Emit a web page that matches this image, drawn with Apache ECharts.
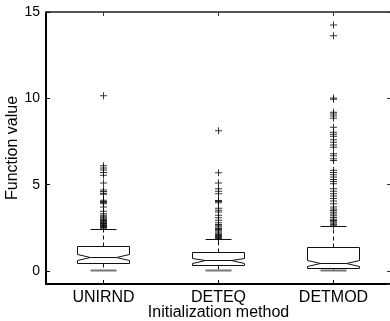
<!DOCTYPE html>
<html>
<head>
<meta charset="utf-8">
<script src="https://cdn.jsdelivr.net/npm/echarts@6/dist/echarts.min.js"></script>
<style>
  html, body { margin: 0; padding: 0; background: #fff; }
  #chart { width: 390px; height: 321px; }
</style>
</head>
<body>
<div id="chart"></div>
<script>
// Initialization methods on the x axis
const categories = ['UNIRND', 'DETEQ', 'DETMOD'];

// Box statistics per method: lower whisker, Q1, median, Q3, upper whisker
const lowerWhisker = [0.06, 0.06, 0.02];
const q1 = [0.44, 0.35, 0.16];
const median = [0.77, 0.59, 0.44];
const q3 = [1.40, 1.06, 1.37];
const upperWhisker = [2.41, 1.83, 2.60];
// Notch bounds around the median
const notchLow = [0.60, 0.45, 0.25];
const notchHigh = [0.94, 0.73, 0.63];

// Outliers beyond the whiskers
const outliersUNIRND = [10.15, 6.10, 5.97, 5.85, 5.70, 5.54, 5.10, 4.70, 4.60, 4.50, 4.44,
  4.10, 4.03, 3.97, 3.90, 3.71, 3.46, 3.32, 3.23, 3.15, 3.08, 3.02, 2.97, 2.92, 2.88,
  2.84, 2.80, 2.76, 2.72, 2.68, 2.64, 2.60, 2.56, 2.52, 2.48];
const outliersDETEQ = [8.12, 5.69, 5.10, 4.77, 4.62, 4.48, 4.08, 4.02, 3.96, 3.63, 3.52,
  3.42, 3.23, 3.08, 2.94, 2.80, 2.70, 2.62, 2.55, 2.47, 2.40, 2.33, 2.26, 2.19, 2.12,
  2.06, 2.00, 1.94, 1.89];
const outliersDETMOD = [14.25, 13.62, 10.02, 9.95, 9.19, 9.10, 8.98, 8.85, 8.33, 8.04,
  7.92, 7.80, 7.60, 7.46, 7.30, 7.17, 6.79, 6.68, 6.50, 6.40, 5.83, 5.70, 5.58, 5.45,
  5.30, 5.18, 5.06, 4.77, 4.62, 4.48, 4.35, 4.20, 4.05, 3.90, 3.71, 3.60, 3.50, 3.40,
  3.30, 3.20, 3.10, 3.00, 2.92, 2.85, 2.78, 2.71, 2.65];

// Y axis range
const yMin = -0.75;
const yMax = 15;

const outlierSets = [outliersUNIRND, outliersDETEQ, outliersDETMOD];

const boxData = categories.map((c, i) => [
  i, lowerWhisker[i], q1[i], median[i], q3[i], upperWhisker[i], notchLow[i], notchHigh[i]
]);

const outlierData = [];
outlierSets.forEach((set, i) => set.forEach(v => outlierData.push([i, v])));

const FONT = 'Liberation Sans, Arial, Helvetica, sans-serif';
const crisp = v => Math.round(v - 0.5) + 0.5;

function renderBox(params, api) {
  const x = api.value(0);
  const band = api.size([1, 0])[0];
  const hw = Math.round(band * 0.23);
  const cw = Math.round(band * 0.11);
  const cx = crisp(api.coord([x, 0])[0]);
  const y = v => crisp(api.coord([x, api.value(v)])[1]);
  const yLo = y(1), yQ1 = y(2), yMed = y(3), yQ3 = y(4), yHi = y(5);
  const yNLo = y(6), yNHi = y(7);
  const L = cx - hw, R = cx + hw, iL = cx - hw / 2, iR = cx + hw / 2;
  const stroke = { stroke: '#111', lineWidth: 1, fill: null };
  const lowCap = { stroke: '#777', lineWidth: 2, fill: null };
  const dashed = { stroke: '#111', lineWidth: 1, lineDash: [4, 3], fill: null };
  return {
    type: 'group',
    children: [
      { type: 'line', shape: { x1: cx, y1: yQ3, x2: cx, y2: yHi }, style: dashed },
      { type: 'line', shape: { x1: cx, y1: yQ1, x2: cx, y2: yLo }, style: dashed },
      { type: 'line', shape: { x1: cx - cw, y1: yHi, x2: cx + cw, y2: yHi }, style: stroke },
      { type: 'line', shape: { x1: cx - cw, y1: yLo, x2: cx + cw, y2: yLo }, style: lowCap },
      {
        type: 'polygon',
        shape: {
          points: [
            [L, yQ1], [L, yNLo], [iL, yMed], [L, yNHi], [L, yQ3],
            [R, yQ3], [R, yNHi], [iR, yMed], [R, yNLo], [R, yQ1]
          ]
        },
        style: { stroke: '#111', lineWidth: 1, fill: '#fff' }
      },
      { type: 'line', shape: { x1: iL, y1: yMed, x2: iR, y2: yMed }, style: stroke }
    ]
  };
}

const chart = echarts.init(document.getElementById('chart'), null, { renderer: 'canvas' });

chart.setOption({
  backgroundColor: '#fff',
  animation: false,
  textStyle: { fontFamily: FONT },
  grid: { left: 46, right: -1, top: 12, bottom: 37, containLabel: false, outerBoundsMode: 'none' },
  xAxis: [
    {
      type: 'category',
      data: categories,
      position: 'bottom',
      boundaryGap: true,
      axisLine: { show: true, onZero: false, lineStyle: { color: '#000', width: 2 } },
      axisTick: { show: true, inside: true, length: 4, alignWithLabel: true, lineStyle: { color: '#000' } },
      axisLabel: { color: '#000', fontSize: 16, margin: 6, fontFamily: FONT },
      splitLine: { show: false },
      name: 'Initialization method',
      nameLocation: 'middle',
      nameGap: 21,
      nameMoveOverlap: false,
      nameTextStyle: { color: '#000', fontSize: 16, fontFamily: FONT }
    },
    {
      type: 'category',
      data: categories,
      position: 'top',
      boundaryGap: true,
      axisLine: { show: true, onZero: false, lineStyle: { color: '#555', width: 2 } },
      axisTick: { show: true, inside: true, length: 4, alignWithLabel: true, lineStyle: { color: '#333' } },
      axisLabel: { show: false },
      splitLine: { show: false }
    }
  ],
  yAxis: [
    {
      type: 'value',
      min: yMin,
      max: yMax,
      splitNumber: 3,
      position: 'left',
      axisLine: { show: true, onZero: false, lineStyle: { color: '#000', width: 2 } },
      axisTick: { show: true, inside: true, length: 4, lineStyle: { color: '#000' } },
      axisLabel: { color: '#000', fontSize: 14, margin: 6, showMinLabel: false, fontFamily: FONT },
      splitLine: { show: false },
      name: 'Function value',
      nameLocation: 'middle',
      nameGap: 25,
      nameMoveOverlap: false,
      nameTextStyle: { color: '#000', fontSize: 16, fontFamily: FONT }
    },
    {
      type: 'value',
      min: yMin,
      max: yMax,
      splitNumber: 3,
      position: 'right',
      axisLine: { show: false, onZero: false },
      axisTick: { show: true, inside: true, length: 4, lineStyle: { color: '#333' } },
      axisLabel: { show: false },
      splitLine: { show: false }
    }
  ],
  series: [
    {
      type: 'custom',
      name: 'box',
      xAxisIndex: 0,
      yAxisIndex: 0,
      renderItem: renderBox,
      encode: { x: 0, y: [1, 2, 3, 4, 5] },
      data: boxData,
      z: 2
    },
    {
      type: 'scatter',
      name: 'outliers',
      xAxisIndex: 0,
      yAxisIndex: 0,
      symbol: 'path://M3,0H4V3H7V4H4V7H3V4H0V3H3Z',
      symbolSize: 7,
      itemStyle: { color: '#000' },
      data: outlierData,
      z: 3
    }
  ]
});
</script>
</body>
</html>
